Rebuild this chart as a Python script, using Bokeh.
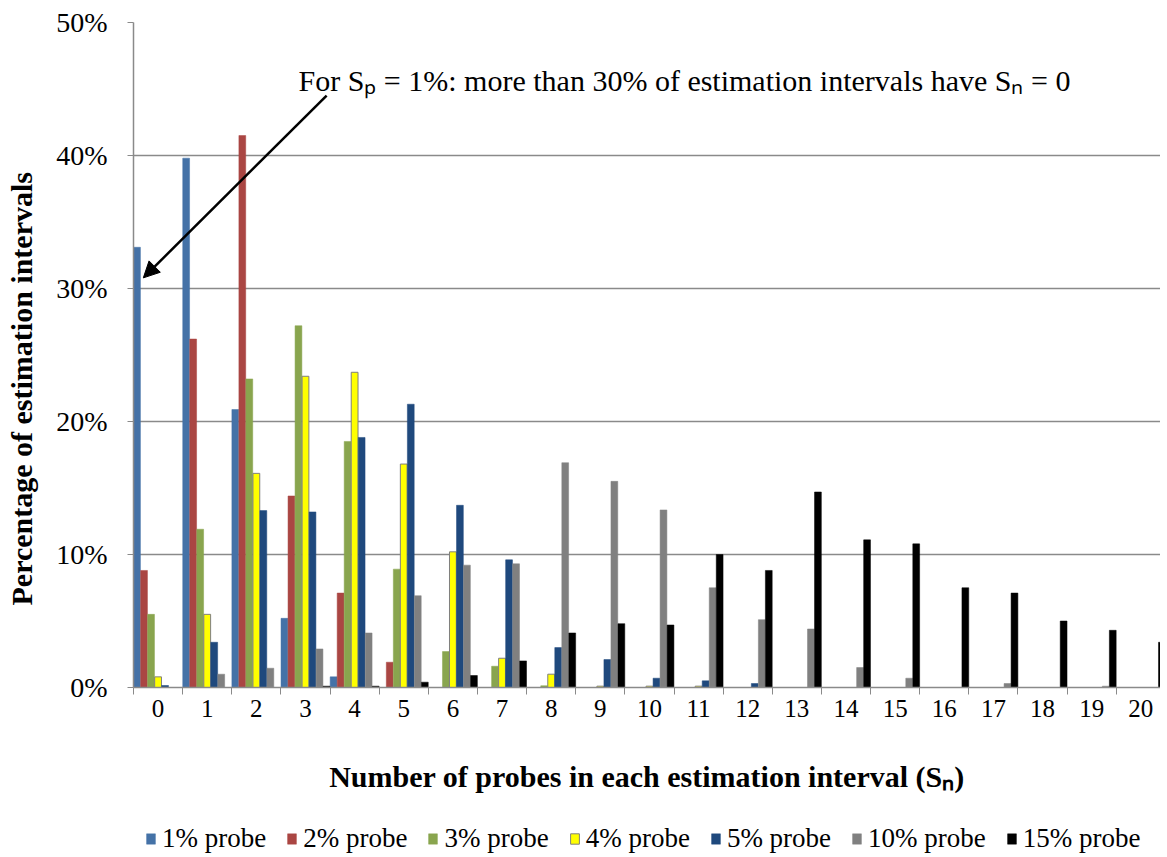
from bokeh.plotting import figure
from bokeh.layouts import column
from bokeh.models import (Range1d, FixedTicker, NumeralTickFormatter, Label, Arrow,
                          NormalHead, Legend, LegendItem, ColumnDataSource)
from bokeh.transform import dodge
from bokeh.embed import file_html
from bokeh.resources import INLINE

# ---------------- data ----------------
categories = list(range(21))
tick_labels = [str(c) for c in categories]
series_names = ["1% probe", "2% probe", "3% probe", "4% probe", "5% probe", "10% probe", "15% probe"]

# percentage of estimation intervals (%), per number of probes S_n = 0..20
probe_1 = [33.1, 39.8, 20.9, 5.2, 0.8, 0, 0, 0, 0, 0, 0, 0, 0, 0, 0, 0, 0, 0, 0, 0, 0]
probe_2 = [8.8, 26.2, 41.5, 14.4, 7.1, 1.9, 0, 0, 0, 0, 0, 0, 0, 0, 0, 0, 0, 0, 0, 0, 0]
probe_3 = [5.5, 11.9, 23.2, 27.2, 18.5, 8.9, 2.7, 1.6, 0.13, 0, 0, 0, 0, 0, 0, 0, 0, 0, 0, 0, 0]
probe_4 = [0.8, 5.5, 16.1, 23.4, 23.7, 16.8, 10.2, 2.2, 1.0, 0.1, 0.1, 0.1, 0, 0, 0, 0, 0, 0, 0, 0, 0]
probe_5 = [0.15, 3.4, 13.3, 13.2, 18.8, 21.3, 13.7, 9.6, 3.0, 2.1, 0.7, 0.5, 0.3, 0, 0, 0, 0, 0, 0, 0, 0]
probe_10 = [0, 1.0, 1.45, 2.9, 4.1, 6.9, 9.2, 9.3, 16.9, 15.5, 13.35, 7.5, 5.1, 4.4, 1.5, 0.7, 0, 0.3, 0, 0.1, 0]
probe_15 = [0, 0, 0, 0.1, 0.1, 0.4, 0.9, 2.0, 4.1, 4.8, 4.7, 10.0, 8.8, 14.7, 11.1, 10.8, 7.5, 7.1, 5.0, 4.3, 3.4]

y_ticks = [0, 0.1, 0.2, 0.3, 0.4, 0.5]
grid_ticks = [0.1, 0.2, 0.3, 0.4]

# ---------------- style ----------------
series = [probe_1, probe_2, probe_3, probe_4, probe_5, probe_10, probe_15]
colors = ["#4572A7", "#AA4643", "#89A54E", "#FFFF00", "#1F497D", "#808080", "#000000"]
outlines = [None, None, None, "#7F7F7F", None, None, None]
FONT = "Liberation Serif"
AXIS_GRAY = "#8A8A8A"
W = 1160

p = figure(width=W, height=797,
           x_range=Range1d(-0.5, 20.4), y_range=Range1d(0, 0.5),
           output_backend="svg", toolbar_location=None,
           min_border_left=133, min_border_right=0,
           min_border_top=22, min_border_bottom=110)
p.outline_line_color = None
p.background_fill_color = "white"
p.border_fill_color = "white"

data = {"x": categories}
for i, s in enumerate(series):
    data[f"s{i}"] = [v / 100.0 for v in s]
source = ColumnDataSource(data)

n = len(series)
bw = 1.0 / n
for i in range(n):
    off = -0.5 + bw * (i + 0.5)
    p.vbar(x=dodge("x", off, range=p.x_range), top=f"s{i}", width=bw * 0.97,
           source=source, fill_color=colors[i],
           line_color=outlines[i] if outlines[i] else colors[i],
           line_width=1 if outlines[i] else 0.5)

# ---------------- axes ----------------
xa = p.xaxis[0]
xa.ticker = FixedTicker(ticks=categories, minor_ticks=[c - 0.5 for c in categories] + [20.5])
xa.major_label_overrides = {c: lab for c, lab in zip(categories, tick_labels)}
xa.major_tick_line_color = None
xa.major_tick_out = 0
xa.major_tick_in = 0
xa.minor_tick_line_color = AXIS_GRAY
xa.minor_tick_out = 7
xa.minor_tick_in = 0
xa.axis_line_color = AXIS_GRAY
xa.axis_line_width = 1.5
xa.major_label_text_font = FONT
xa.major_label_text_font_size = "25px"
xa.major_label_text_color = "black"
xa.major_label_standoff = 5
xa.axis_label = "Number of probes in each estimation interval (S\u2099)"
xa.axis_label_text_font = FONT
xa.axis_label_text_font_size = "30px"
xa.axis_label_text_font_style = "bold"
xa.axis_label_text_color = "black"
xa.axis_label_standoff = 40

ya = p.yaxis[0]
ya.ticker = FixedTicker(ticks=y_ticks)
ya.formatter = NumeralTickFormatter(format="0%")
ya.major_tick_out = 6
ya.major_tick_in = 0
ya.minor_tick_line_color = None
ya.major_tick_line_color = AXIS_GRAY
ya.axis_line_color = AXIS_GRAY
ya.axis_line_width = 1.5
ya.major_label_text_font = FONT
ya.major_label_text_font_size = "28px"
ya.major_label_text_color = "black"
ya.major_label_standoff = 20
# trailing no-break spaces shift the (bottom-to-top) title slightly downwards, as in the original
ya.axis_label = "Percentage of  estimation intervals" + "\u00a0" * 8
ya.axis_label_text_font = FONT
ya.axis_label_text_font_size = "30px"
ya.axis_label_text_font_style = "bold"
ya.axis_label_text_color = "black"
ya.axis_label_standoff = 15

p.xgrid.visible = False
p.ygrid.ticker = FixedTicker(ticks=grid_ticks)
p.ygrid.grid_line_color = AXIS_GRAY
p.ygrid.grid_line_width = 1.5

# ---------------- annotation ----------------
p.add_layout(Label(x=165, y=607, x_units="screen", y_units="screen",
                   text="For S\u209a = 1%: more than 30% of estimation intervals have S\u2099 = 0",
                   text_align="left", text_baseline="middle",
                   text_font=FONT, text_font_size="30px", text_color="black"))
x_end = categories[0] - 0.5 + bw * 1.4
y_end = probe_1[0] / 100.0 - 0.023
p.add_layout(Arrow(x_start=3.43, y_start=0.445, x_end=x_end, y_end=y_end,
                   line_width=2.5, line_color="black",
                   end=NormalHead(size=16, fill_color="black", line_color="black")))

# ---------------- legend (own strip below the chart) ----------------
# swatch renderers share the data but the strip's y-range lies above them, so only the legend shows
pl = figure(width=W, height=57, x_range=Range1d(-0.5, 20.4), y_range=Range1d(2, 3),
            output_backend="svg", toolbar_location=None,
            x_axis_location=None, y_axis_location=None,
            min_border_left=0, min_border_right=0, min_border_top=0, min_border_bottom=0)
pl.outline_line_color = None
pl.xgrid.visible = False
pl.ygrid.visible = False
items = []
for i, nm in enumerate(series_names):
    r = pl.vbar(x="x", top=f"s{i}", width=bw, source=source, fill_color=colors[i],
                line_color=outlines[i] if outlines[i] else colors[i],
                line_width=1 if outlines[i] else 0.5)
    items.append(LegendItem(label=nm, renderers=[r]))
legend = Legend(items=items, orientation="horizontal", location=(12, 0),
                label_text_font=FONT, label_text_font_size="27px", label_text_color="black",
                glyph_width=11, glyph_height=13, label_standoff=6, spacing=20,
                padding=0, margin=0, border_line_color=None, background_fill_alpha=0)
pl.add_layout(legend, "center")

layout = column(p, pl, spacing=0)
open("out.html", "w").write(file_html(layout, INLINE))
